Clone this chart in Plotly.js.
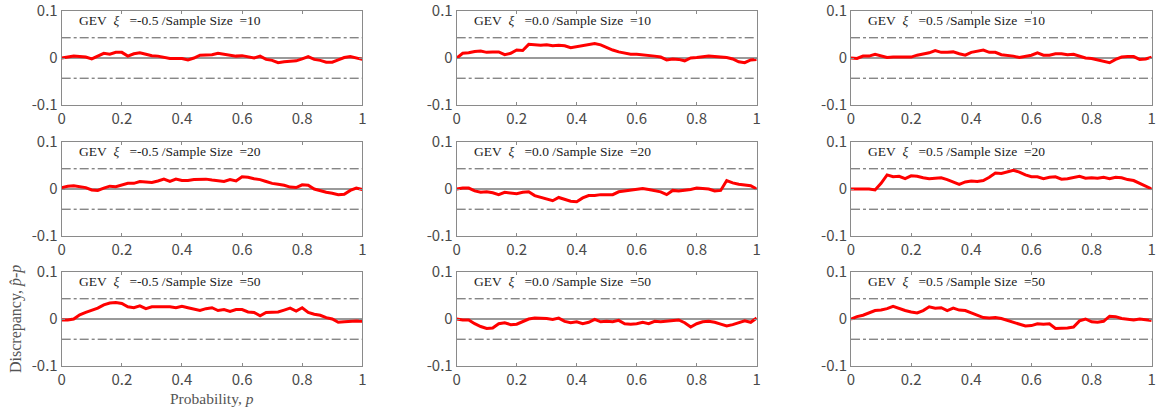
<!DOCTYPE html>
<html>
<head>
<meta charset="utf-8">
<script src="https://cdn.plot.ly/plotly-3.0.1.min.js"></script>
<style>html,body{margin:0;padding:0;background:#fff;}#chart{width:1156px;height:414px;}</style>
</head>
<body>
<div id="chart"></div>
<script>
// ---- data ----
const prob = [0,0.02,0.04,0.06,0.08,0.10,0.12,0.14,0.16,0.18,0.20,0.22,0.24,0.26,0.28,0.30,0.32,0.34,0.36,0.38,0.40,0.42,0.44,0.46,0.48,0.50,0.52,0.54,0.56,0.58,0.60,0.62,0.64,0.66,0.68,0.70,0.72,0.74,0.76,0.78,0.80,0.82,0.84,0.86,0.88,0.90,0.92,0.94,0.96,0.98,1.00];
const xiLabels = ['-0.5', '0.0', '0.5'];
const sampleSizes = [10, 20, 50];
const bound = 0.043;
const xTickVals = [0, 0.2, 0.4, 0.6, 0.8, 1];
const xTickText = ['0', '0.2', '0.4', '0.6', '0.8', '1'];
const yTickVals = [-0.1, 0, 0.1];
const yTickText = ['-0.1', '0', '0.1'];

const dXiM05N10 = [0.000,0.002,0.004,0.003,0.002,-0.002,0.004,0.010,0.008,0.012,0.012,0.004,0.009,0.011,0.008,0.005,0.004,0.002,-0.001,-0.001,-0.001,-0.004,0.000,0.006,0.006,0.007,0.010,0.008,0.005,0.004,0.005,0.002,0.000,0.004,-0.003,-0.005,-0.010,-0.008,-0.007,-0.006,-0.002,0.003,-0.003,-0.005,-0.009,-0.009,-0.004,0.001,0.003,0.000,-0.003];
const dXi00N10 = [0.000,0.010,0.011,0.014,0.015,0.012,0.013,0.013,0.007,0.010,0.017,0.016,0.029,0.028,0.027,0.028,0.026,0.027,0.026,0.022,0.024,0.026,0.029,0.031,0.028,0.022,0.017,0.013,0.010,0.008,0.008,0.007,0.006,0.004,0.002,-0.004,-0.002,-0.003,-0.006,0.000,0.001,0.003,0.004,0.003,0.002,0.001,-0.002,-0.008,-0.010,-0.004,-0.003];
const dXi05N10 = [0.000,-0.001,0.004,0.004,0.008,0.004,0.001,0.002,0.002,0.002,0.002,0.006,0.008,0.011,0.016,0.012,0.012,0.013,0.009,0.006,0.012,0.014,0.017,0.012,0.012,0.007,0.006,0.004,0.001,0.004,0.006,0.011,0.006,0.006,0.009,0.009,0.007,0.008,0.004,0.000,-0.001,-0.004,-0.008,-0.010,-0.003,0.002,0.003,0.003,-0.003,-0.002,0.002];
const dXiM05N20 = [0.003,0.006,0.007,0.005,0.003,-0.002,-0.003,0.002,0.006,0.005,0.008,0.012,0.012,0.016,0.015,0.014,0.017,0.021,0.016,0.021,0.018,0.018,0.020,0.020,0.021,0.019,0.018,0.016,0.020,0.017,0.026,0.025,0.022,0.020,0.016,0.012,0.010,0.008,0.004,0.003,0.009,0.008,0.000,-0.004,-0.007,-0.009,-0.012,-0.011,-0.003,0.002,-0.001];
const dXi00N20 = [0.000,0.002,0.002,-0.004,-0.007,-0.006,-0.008,-0.012,-0.007,-0.008,-0.010,-0.007,-0.006,-0.014,-0.018,-0.021,-0.025,-0.018,-0.022,-0.026,-0.027,-0.019,-0.014,-0.014,-0.012,-0.012,-0.012,-0.006,-0.004,-0.003,0.000,0.001,-0.001,-0.003,-0.006,-0.012,-0.003,-0.004,-0.003,-0.001,0.002,0.001,0.000,-0.004,-0.003,0.018,0.013,0.010,0.008,0.007,0.000];
const dXi05N20 = [0.000,0.000,0.000,0.000,-0.002,0.012,0.030,0.026,0.027,0.022,0.028,0.027,0.024,0.022,0.023,0.024,0.020,0.015,0.010,0.015,0.017,0.016,0.018,0.025,0.034,0.033,0.036,0.040,0.036,0.030,0.026,0.026,0.022,0.025,0.026,0.021,0.022,0.024,0.027,0.023,0.024,0.023,0.025,0.022,0.025,0.024,0.020,0.018,0.012,0.007,0.000];
const dXiM05N50 = [-0.002,-0.002,0.000,0.009,0.014,0.018,0.023,0.030,0.034,0.035,0.033,0.026,0.024,0.028,0.022,0.026,0.026,0.025,0.026,0.024,0.027,0.024,0.021,0.018,0.022,0.024,0.018,0.020,0.016,0.020,0.020,0.015,0.014,0.007,0.014,0.014,0.015,0.019,0.023,0.017,0.024,0.014,0.010,0.008,0.003,0.000,-0.007,-0.006,-0.005,-0.004,-0.005];
const dXi00N50 = [0.000,-0.002,-0.002,-0.010,-0.016,-0.020,-0.019,-0.010,-0.008,-0.012,-0.011,-0.005,0.000,0.002,0.002,0.001,-0.001,0.002,-0.005,-0.008,-0.006,-0.010,-0.007,-0.001,-0.006,-0.005,-0.006,-0.003,-0.010,-0.011,-0.010,-0.007,-0.010,-0.005,-0.006,-0.005,-0.003,-0.002,-0.008,-0.017,-0.010,-0.006,-0.005,-0.007,-0.011,-0.015,-0.012,-0.008,-0.004,-0.007,0.002];
const dXi05N50 = [0.000,0.005,0.008,0.013,0.018,0.019,0.022,0.027,0.022,0.018,0.015,0.013,0.018,0.026,0.023,0.024,0.018,0.023,0.019,0.018,0.013,0.008,0.003,0.002,0.003,0.001,-0.003,-0.006,-0.010,-0.015,-0.014,-0.010,-0.011,-0.010,-0.020,-0.020,-0.019,-0.017,-0.004,0.000,-0.006,-0.007,-0.005,0.006,0.005,0.001,-0.001,-0.002,0.000,-0.002,-0.003];

const panelSeries = [
  [dXiM05N10, dXi00N10, dXi05N10],
  [dXiM05N20, dXi00N20, dXi05N20],
  [dXiM05N50, dXi00N50, dXi05N50]
];

// ---- layout geometry ----
const W = 1156, H = 414;
const colPx = [[61.7, 362.3], [456.7, 756.7], [851, 1151.7]];
const rowPx = [[11, 105], [142, 236], [272, 366]];
const tickFont = {family: 'Noto Sans CJK JP, Noto Sans, sans-serif', size: 15, color: '#4a4a4a'};

const traces = [];
const layout = {
  width: W, height: H,
  margin: {l: 0, r: 0, t: 0, b: 0},
  paper_bgcolor: '#ffffff', plot_bgcolor: '#ffffff',
  showlegend: false,
  annotations: [],
  font: tickFont
};

let k = 0;
for (let r = 0; r < 3; r++) {
  for (let c = 0; c < 3; c++) {
    k++;
    const xa = 'x' + (k === 1 ? '' : k), ya = 'y' + (k === 1 ? '' : k);
    const xk = 'xaxis' + (k === 1 ? '' : k), yk = 'yaxis' + (k === 1 ? '' : k);
    const common = {
      fixedrange: true, showline: true, mirror: 'ticks', linecolor: '#8a8a8a', linewidth: 1,
      showgrid: false, ticks: 'inside', ticklen: 3, tickwidth: 1, tickcolor: '#8a8a8a',
      ticklabeloverflow: 'allow', tickfont: tickFont
    };
    layout[xk] = Object.assign({}, common, {
      domain: [colPx[c][0] / W, colPx[c][1] / W],
      anchor: ya, range: [0, 1], zeroline: false,
      tickvals: xTickVals, ticktext: xTickText
    });
    layout[yk] = Object.assign({}, common, {
      domain: [1 - rowPx[r][1] / H, 1 - rowPx[r][0] / H],
      anchor: xa, range: [-0.1, 0.1],
      zeroline: true, zerolinecolor: '#9a9a9a', zerolinewidth: 1.6,
      tickvals: yTickVals, ticktext: yTickText
    });
    // confidence bounds
    [bound, -bound].forEach(b => traces.push({
      x: [xTickVals[0], xTickVals[xTickVals.length - 1]], y: [b, b],
      xaxis: xa, yaxis: ya, mode: 'lines', hoverinfo: 'skip',
      line: {color: '#555', width: 1, dash: 'dashdot'}
    }));
    traces.push({
      x: prob, y: panelSeries[r][c], xaxis: xa, yaxis: ya,
      mode: 'lines', line: {color: '#ff0000', width: 3}
    });
    layout.annotations.push({
      xref: xa + ' domain', yref: ya + ' domain', x: 0.05, y: 0.895,
      xanchor: 'left', yanchor: 'middle', showarrow: false,
      text: 'GEV\u00a0\u00a0<i>ξ</i>\u00a0\u00a0\u00a0=' + xiLabels[c] + ' /Sample Size\u00a0\u00a0=' + sampleSizes[r],
      font: {family: 'Liberation Serif, Times New Roman, serif', size: 13.5, color: '#222'}
    });
  }
}

layout.annotations.push({
  xref: 'paper', yref: 'paper', x: 16 / W, y: 1 - 319 / H,
  xanchor: 'center', yanchor: 'middle', showarrow: false, textangle: -90,
  text: 'Discrepancy, <i>p̂</i>-<i>p</i>',
  font: {family: 'Liberation Serif, Times New Roman, serif', size: 16, color: '#555'}
});
layout.annotations.push({
  xref: 'paper', yref: 'paper', x: 212 / W, y: 1 - 398 / H,
  xanchor: 'center', yanchor: 'middle', showarrow: false,
  text: 'Probability, <i>p</i>',
  font: {family: 'Liberation Serif, Times New Roman, serif', size: 15.5, color: '#555'}
});

Plotly.newPlot('chart', traces, layout, {displayModeBar: false, staticPlot: true});
</script>
</body>
</html>
